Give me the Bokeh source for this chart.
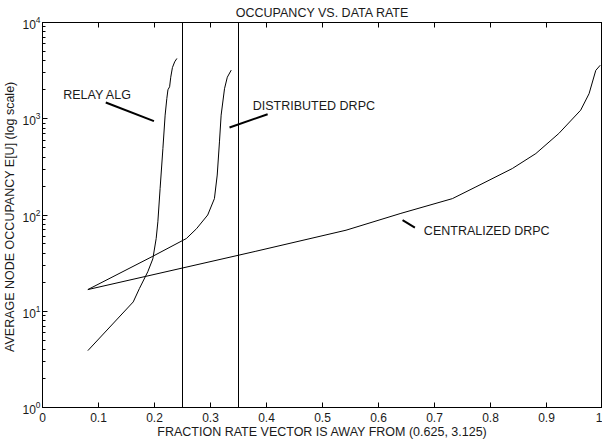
from bokeh.plotting import figure
from bokeh.models import FixedTicker, LinearAxis, LogAxis, Span
from bokeh.core.properties import value
from bokeh.embed import file_html
from bokeh.resources import INLINE

# ---- data ----
relay_x = [0.081, 0.162, 0.173, 0.188, 0.197, 0.203, 0.206, 0.210, 0.215, 0.219, 0.222, 0.224, 0.227, 0.229, 0.232, 0.236, 0.240]
relay_y = [3.9, 12.5, 17.2, 25.7, 35, 57, 85, 188, 490, 1090, 1620, 2000, 2150, 2700, 3400, 3900, 4230]

dist_x = [0.081, 0.196, 0.257, 0.275, 0.295, 0.307, 0.312, 0.316, 0.319, 0.325, 0.330, 0.337]
dist_y = [16.8, 37, 57, 72, 100, 148, 260, 575, 1090, 2050, 2700, 3200]

cent_x = [0.081, 0.381, 0.542, 0.640, 0.732, 0.774, 0.839, 0.881, 0.922, 0.961, 0.976, 0.988, 0.996]
cent_y = [16.8, 42, 69.5, 104, 148, 196, 304, 435, 703, 1227, 1820, 3180, 3600]

vlines_x = [0.25, 0.35]

label_text = ["RELAY ALG", "DISTRIBUTED DRPC", "CENTRALIZED DRPC"]
label_x = [0.037, 0.3755, 0.681]
label_y = [1786, 1364, 68.5]

leader_x0 = [0.113, 0.402, 0.643]
leader_y0 = [1475, 1115, 88.3]
leader_x1 = [0.199, 0.334, 0.665]
leader_y1 = [944, 811, 74.1]

x_ticks = [0, 0.1, 0.2, 0.3, 0.4, 0.5, 0.6, 0.7, 0.8, 0.9, 1.0]
x_tick_labels = ["0", "0.1", "0.2", "0.3", "0.4", "0.5", "0.6", "0.7", "0.8", "0.9", "1"]
y_ticks = [1, 10, 100, 1000, 10000]
y_minor = [m * 10 ** k for k in range(4) for m in range(2, 10)]

FONT = "Liberation Sans"
TXT = "#1a1a1a"

p = figure(frame_width=560, frame_height=385, x_range=(0, 1), y_range=(1, 10000),
           y_axis_type="log", output_backend="svg", toolbar_location=None,
           min_border_left=38, min_border_right=0, min_border_top=0, min_border_bottom=0,
           x_axis_location=None, y_axis_location=None)
p.grid.visible = False
p.outline_line_color = "black"
p.outline_line_width = 1
p.background_fill_color = "white"
p.border_fill_color = "white"

p.title.text = "OCCUPANCY VS. DATA RATE"
p.title.align = "center"
p.title.text_font = FONT
p.title.text_font_size = "12.5px"
p.title.text_font_style = "normal"
p.title.text_color = TXT
p.title.standoff = 6

x_tick = FixedTicker(ticks=x_ticks)
y_tick = FixedTicker(ticks=y_ticks, minor_ticks=y_minor)


def style(ax, show_labels):
    ax.axis_line_color = "black"
    ax.major_tick_line_color = "black"
    ax.minor_tick_line_color = "black"
    ax.major_tick_in = 5
    ax.major_tick_out = 0
    ax.minor_tick_in = 3
    ax.minor_tick_out = 0
    if show_labels:
        ax.major_label_text_font = FONT
        ax.major_label_text_font_size = "12px"
        ax.major_label_text_color = TXT
        ax.axis_label_text_font = FONT
        ax.axis_label_text_font_size = "12.5px"
        ax.axis_label_text_font_style = "normal"
        ax.axis_label_text_color = TXT
    else:
        ax.major_label_text_font_size = "0px"
        ax.major_label_standoff = 0
        ax.axis_label_standoff = 0


xb = LinearAxis(ticker=x_tick, axis_label="FRACTION RATE VECTOR IS AWAY FROM (0.625, 3.125)")
style(xb, True)
xb.major_label_overrides = dict(zip(x_ticks, x_tick_labels))
xb.major_label_standoff = 5
xb.axis_label_standoff = 0
xb.minor_tick_line_color = None
p.add_layout(xb, "below")

xt = LinearAxis(ticker=x_tick)
style(xt, False)
xt.minor_tick_line_color = None
xt.major_label_overrides = {t: "" for t in x_ticks}
p.add_layout(xt, "above")

yl = LogAxis(ticker=y_tick, axis_label="AVERAGE NODE OCCUPANCY E[U]  (log scale)")
style(yl, True)
yl.major_label_standoff = 2
yl.axis_label_standoff = 2
p.add_layout(yl, "left")

for xv in vlines_x:
    p.add_layout(Span(location=xv, dimension="height", line_color="black", line_width=1))

p.line(relay_x, relay_y, line_color="black", line_width=1)
p.line(dist_x, dist_y, line_color="black", line_width=1)
p.line(cent_x, cent_y, line_color="black", line_width=1)

p.segment(x0=leader_x0, y0=leader_y0, x1=leader_x1, y1=leader_y1, line_color="black", line_width=2)

p.text(x=label_x, y=label_y, text=label_text, text_font=value(FONT), text_font_size=value("12.5px"),
       text_color=TXT, text_align="left", text_baseline="middle")

open("out.html", "w").write(file_html(p, INLINE))
